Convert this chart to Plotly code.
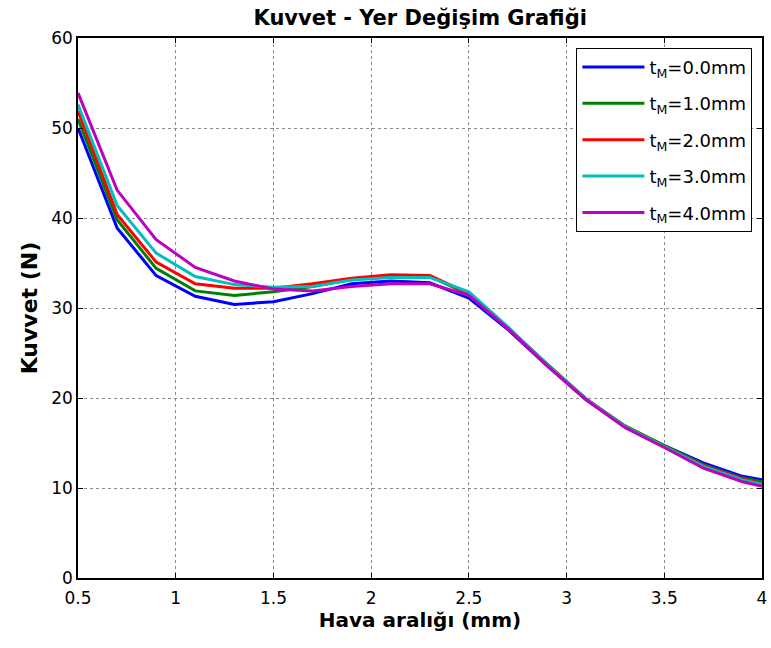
import plotly.graph_objects as go

# Air gap (mm)
hava_araligi = [0.5, 0.7, 0.9, 1.1, 1.3, 1.5, 1.7, 1.9, 2.1, 2.3, 2.5, 2.7, 2.9, 3.1, 3.3, 3.5, 3.7, 3.9, 4.0]

# Force (N) for each magnet thickness tM
kuvvet_t0 = [50.0, 38.9, 33.6, 31.3, 30.4, 30.7, 31.6, 32.7, 33.0, 32.8, 31.1, 27.6, 23.6, 19.8, 16.8, 14.7, 12.8, 11.3, 10.9]
kuvvet_t1 = [51.0, 39.8, 34.4, 31.9, 31.4, 31.8, 32.4, 33.2, 33.5, 33.5, 31.5, 27.8, 23.8, 19.9, 16.9, 14.7, 12.6, 11.1, 10.7]
kuvvet_t2 = [51.9, 40.4, 35.1, 32.7, 32.2, 32.2, 32.7, 33.3, 33.7, 33.6, 31.6, 27.8, 23.7, 19.9, 16.8, 14.6, 12.5, 11.0, 10.5]
kuvvet_t3 = [52.6, 41.4, 36.1, 33.5, 32.6, 32.3, 32.4, 33.1, 33.4, 33.4, 31.8, 27.9, 23.7, 19.9, 16.8, 14.6, 12.4, 10.9, 10.4]
kuvvet_t4 = [53.9, 43.1, 37.6, 34.5, 33.0, 32.1, 31.9, 32.4, 32.7, 32.7, 31.4, 27.7, 23.6, 19.8, 16.7, 14.5, 12.2, 10.7, 10.2]

seriler = [
    ("t<sub>M</sub>=0.0mm", kuvvet_t0, "#0000ff"),
    ("t<sub>M</sub>=1.0mm", kuvvet_t1, "#008000"),
    ("t<sub>M</sub>=2.0mm", kuvvet_t2, "#ff0000"),
    ("t<sub>M</sub>=3.0mm", kuvvet_t3, "#00bfbf"),
    ("t<sub>M</sub>=4.0mm", kuvvet_t4, "#bf00bf"),
]

x_ticks = [0.5, 1, 1.5, 2, 2.5, 3, 3.5, 4]
x_tick_text = ["0.5", "1", "1.5", "2", "2.5", "3", "3.5", "4"]
y_ticks = [0, 10, 20, 30, 40, 50, 60]

FONT = "DejaVu Sans"

fig = go.Figure()
for i, (ad, degerler, renk) in enumerate(seriler):
    fig.add_trace(go.Scatter(
        x=hava_araligi, y=degerler, mode="lines", name=ad,
        legendgroup=f"g{i}",
        line=dict(color=renk, width=3),
    ))

eksen_ortak = dict(
    showline=True, linecolor="black", linewidth=1.5, mirror="ticks",
    ticks="inside", ticklen=5, tickcolor="black", tickwidth=1,
    showgrid=True, gridcolor="#8a8a8a", gridwidth=1, griddash="dot",
    zeroline=False, automargin=False,
    tickfont=dict(family=FONT, size=17, color="black"),
)

fig.update_layout(
    width=771, height=648,
    paper_bgcolor="white", plot_bgcolor="white",
    margin=dict(l=78, r=9, t=38, b=70),
    title=dict(
        text="<b>Kuvvet - Yer Değişim Grafiği</b>",
        x=0.545, xanchor="center", y=0.973, yanchor="middle",
        font=dict(family=FONT, size=21, color="black"),
    ),
    xaxis=dict(
        range=[0.5, 4], tickvals=x_ticks, ticktext=x_tick_text,
        ticklabelstandoff=4,
        title=dict(text="<b>Hava aralığı (mm)</b>", standoff=4,
                   font=dict(family=FONT, size=20, color="black")),
        **eksen_ortak,
    ),
    yaxis=dict(
        range=[0, 60], tickvals=y_ticks,
        title=dict(text="<b>Kuvvet (N)</b>", standoff=8,
                   font=dict(family=FONT, size=22, color="black")),
        **eksen_ortak,
    ),
    legend=dict(
        x=0.986, xanchor="right", y=0.982, yanchor="top",
        bgcolor="white", bordercolor="black", borderwidth=1,
        font=dict(family=FONT, size=18, color="black"),
        itemwidth=62, tracegroupgap=10,
    ),
    showlegend=True,
)

fig.write_html("out.html")
